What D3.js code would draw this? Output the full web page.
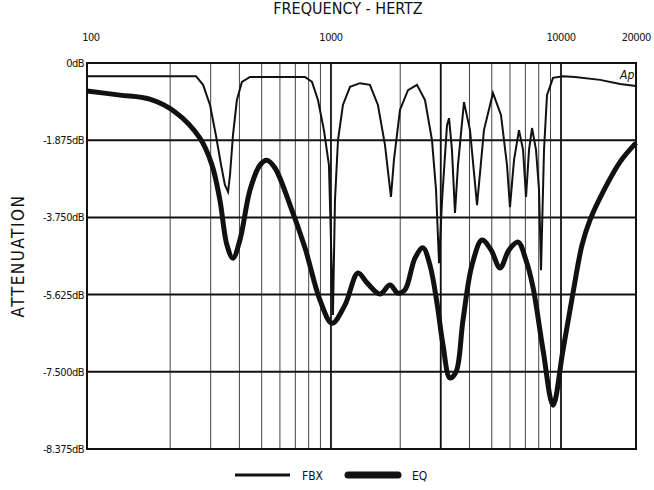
<!DOCTYPE html>
<html><head><meta charset="utf-8">
<script src="https://cdn.jsdelivr.net/npm/d3@7"></script>
<style>body{margin:0;background:#fff}text{font-family:"Liberation Sans Narrow","DejaVu Sans Condensed",Arial,sans-serif;fill:#111}</style>
</head><body><svg id="c" width="654" height="490"></svg>
<script>
const freqTicks=[100,1000,10000,20000];
const freqTickLabels=["100","1000","10000","20000"];
const gridFreqs=[200,300,400,500,600,700,800,900,2000,3000,4000,5000,6000,7000,8000,9000];
const darkGridFreqs=[1000,3000,10000];
const dbTicks=[0,-1.875,-3.75,-5.625,-7.5,-9.375];
const dbTickLabels=["0dB","-1.875dB","-3.750dB","-5.625dB","-7.500dB","-8.375dB"];
const fbxFreq=[87,259,278,298,316,333,346,357,364,375,390,410,445,771,827,878,932,980,1020,1041,1073,1127,1210,1337,1477,1600,1717,1787,1823,1878,1995,2162,2365,2563,2748,2862,2950,3040,3194,3260,3357,3460,3565,3786,4021,4315,4624,5061,5483,5824,5999,6247,6566,6839,7046,7260,7482,7787,8024,8187,8435,8690,9230,10200,11500,14790,18060,21180];
const fbxDb=[-0.32,-0.32,-0.53,-1.02,-1.75,-2.48,-2.96,-3.13,-2.72,-1.75,-0.90,-0.46,-0.34,-0.34,-0.46,-0.90,-1.63,-2.48,-6.12,-3.33,-1.87,-1.02,-0.58,-0.49,-0.53,-1.02,-1.99,-2.84,-3.25,-2.36,-1.14,-0.66,-0.53,-0.90,-1.87,-3.08,-4.86,-3.33,-1.51,-1.34,-2.11,-3.64,-2.48,-0.95,-1.63,-3.45,-1.63,-0.73,-1.26,-2.48,-3.50,-2.36,-1.63,-2.11,-3.25,-2.11,-1.58,-2.11,-3.08,-5.03,-2.11,-0.78,-0.36,-0.32,-0.34,-0.41,-0.51,-0.56];
const eqFreq=[87,121,163,210,269,304,329,353,375,402,445,491,527,571,664,771,896,1010,1150,1310,1435,1633,1805,1955,2097,2318,2512,2693,2890,3069,3290,3494,3750,4102,4535,4963,5429,5940,6501,7046,7551,8353,9230,10200,11270,12340,13370,15530,18060,21180];
const eqDb=[-0.68,-0.78,-0.88,-1.19,-1.82,-2.48,-3.33,-4.42,-4.74,-4.30,-3.08,-2.48,-2.36,-2.55,-3.45,-4.49,-5.76,-6.32,-5.88,-5.10,-5.34,-5.61,-5.39,-5.59,-5.51,-4.74,-4.49,-4.91,-5.83,-6.85,-7.65,-7.51,-6.24,-4.91,-4.30,-4.54,-4.98,-4.54,-4.35,-4.79,-5.44,-6.97,-8.31,-6.97,-5.59,-4.42,-3.81,-3.04,-2.40,-1.94];

const svg=d3.select("#c");
const L=87,R=636,T=63,B=449;
const x=d3.scaleLog().domain([87,21180]).range([L,R]);
const y=d3.scaleLinear().domain([0,-9.375]).range([T,B]);
const g=svg.append("g");
g.selectAll(".vg").data(gridFreqs).join("line").attr("x1",d=>x(d)).attr("x2",d=>x(d)).attr("y1",T).attr("y2",B).attr("stroke","#444").attr("stroke-width",1);
g.selectAll(".vd").data(darkGridFreqs).join("line").attr("x1",d=>x(d)).attr("x2",d=>x(d)).attr("y1",T).attr("y2",B).attr("stroke","#111").attr("stroke-width",1.8);
g.selectAll(".hg").data(dbTicks).join("line").attr("x1",L).attr("x2",R).attr("y1",d=>y(d)).attr("y2",d=>y(d)).attr("stroke","#111").attr("stroke-width",2);
g.append("rect").attr("x",L).attr("y",T).attr("width",R-L).attr("height",B-T).attr("fill","none").attr("stroke","#111").attr("stroke-width",2);
g.selectAll(".yl").data(dbTicks).join("text").attr("x",L-3).attr("y",d=>y(d)+4).attr("text-anchor","end").attr("font-size",11).attr("letter-spacing",-0.5).text((d,i)=>dbTickLabels[i]);
g.selectAll(".xl").data(freqTicks).join("text").attr("x",(d,i)=>i==0?x(100)-10:(i==3?x(d)+6:x(d))).attr("y",41).attr("text-anchor","middle").attr("font-size",11).attr("letter-spacing",-0.5).text((d,i)=>freqTickLabels[i]);
svg.append("text").attr("x",348).attr("y",14).attr("text-anchor","middle").attr("font-size",16).text("FREQUENCY - HERTZ");
svg.append("text").attr("transform","translate(24,256) rotate(-90)").attr("text-anchor","middle").attr("font-size",17).attr("letter-spacing",1.5).text("ATTENUATION");
const line=d3.line().x(d=>x(d[0])).y(d=>y(d[1]));
svg.append("path").datum(fbxFreq.map((f,i)=>[f,fbxDb[i]])).attr("d",line).attr("fill","none").attr("stroke","#111").attr("stroke-width",2);
svg.append("path").datum(eqFreq.map((f,i)=>[f,eqDb[i]])).attr("d",line.curve(d3.curveCatmullRom)).attr("fill","none").attr("stroke","#111").attr("stroke-width",5);
svg.append("text").attr("x",620).attr("y",79).attr("font-size",12).attr("font-style","italic").text("Ap");
svg.append("line").attr("x1",235).attr("x2",290).attr("y1",475).attr("y2",475).attr("stroke","#111").attr("stroke-width",3);
svg.append("text").attr("x",302).attr("y",480).attr("font-size",12).text("FBX");
svg.append("line").attr("x1",348).attr("x2",398).attr("y1",475).attr("y2",475).attr("stroke","#111").attr("stroke-width",7).attr("stroke-linecap","round");
svg.append("text").attr("x",412).attr("y",480).attr("font-size",12).text("EQ");
</script></body></html>
